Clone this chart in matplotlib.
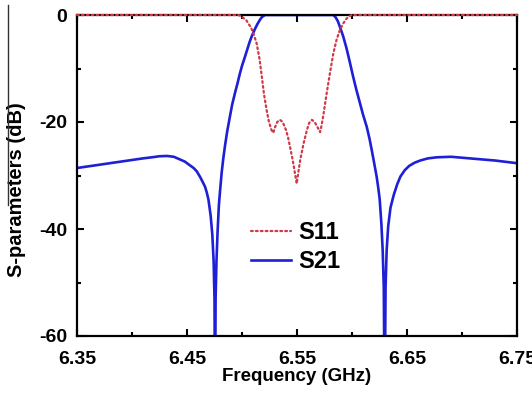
import matplotlib
matplotlib.use("Agg")
import matplotlib.pyplot as plt
from matplotlib.lines import Line2D
from matplotlib.ticker import MultipleLocator

plt.rcParams['font.family'] = ['Liberation Sans', 'DejaVu Sans']

# ---- data ----
freq_s11 = [6.35, 6.40, 6.45, 6.4966, 6.499, 6.5015, 6.504, 6.5057, 6.508, 6.510,
            6.5133, 6.516, 6.518, 6.520, 6.5224, 6.5245, 6.527, 6.5285, 6.530,
            6.532, 6.5345, 6.537, 6.540, 6.542, 6.546, 6.5497, 6.553, 6.556,
            6.559, 6.561, 6.5636, 6.566, 6.5685, 6.5710, 6.5725, 6.5745, 6.577,
            6.580, 6.583, 6.586, 6.589, 6.592, 6.5945, 6.597, 6.5997, 6.65,
            6.70, 6.75]
s11_db = [0, 0, 0, 0, -0.2, -0.6, -1.0, -1.55, -2.3, -3.2,
          -5.3, -8.3, -11.5, -14.8, -17.8, -20.0, -21.6, -22.0, -21.0,
          -20.0, -19.6, -20.0, -21.5, -23.0, -27.0, -31.5, -27.0, -24.0,
          -21.5, -20.2, -19.6, -20.0, -20.9, -21.9, -20.5, -18.0, -14.6,
          -10.8, -7.2, -4.6, -2.8, -1.6, -0.8, -0.3, 0, 0,
          0, 0]

freq_s21 = [6.35, 6.37, 6.39, 6.41, 6.418, 6.425, 6.432, 6.438, 6.4436, 6.448,
            6.452, 6.456, 6.4588, 6.462, 6.4645, 6.4664, 6.468, 6.4695, 6.4715,
            6.4730, 6.4742, 6.4750, 6.4755, 6.4760, 6.4768, 6.4778, 6.4790,
            6.4800, 6.4815, 6.4830, 6.4845, 6.4865, 6.4890, 6.4910, 6.4936,
            6.4960, 6.4980, 6.5000, 6.5027, 6.5050, 6.5070, 6.5090, 6.5118,
            6.5140, 6.5160, 6.5180, 6.5209, 6.5500, 6.5830, 6.5850, 6.5870,
            6.5890, 6.5920, 6.5950, 6.5980, 6.6010, 6.6040, 6.6070, 6.6100,
            6.6134, 6.6160, 6.6180, 6.6200, 6.6224, 6.6240, 6.6252, 6.6267,
            6.6279, 6.6289, 6.6297, 6.6305, 6.6315, 6.6329, 6.6350, 6.6380,
            6.6410, 6.6440, 6.6480, 6.6520, 6.6570, 6.6620, 6.6690, 6.6770,
            6.6900, 6.7070, 6.7300, 6.7500]
s21_db = [-28.6, -28.0, -27.4, -26.8, -26.6, -26.4, -26.35, -26.5, -27.0, -27.4,
          -28.0, -28.6, -29.2, -30.3, -31.3, -32.1, -33.2, -34.5, -37.5,
          -41.0, -46.0, -53.0, -75.0, -53.0, -46.0, -40.5, -35.5,
          -33.0, -29.5, -26.8, -24.5, -21.8, -19.0, -16.8, -14.6,
          -12.7, -11.0, -9.5, -7.8, -6.3, -5.0, -3.9, -2.6,
          -1.7, -1.0, -0.4, 0, 0, 0, -0.4, -1.1,
          -2.2, -4.0, -6.2, -8.8, -11.5, -14.0, -16.3, -18.6,
          -20.9, -23.2, -25.3, -27.5, -30.2, -32.5, -34.5, -39.0,
          -44.0, -51.0, -75.0, -51.0, -44.0, -39.5, -36.0, -33.6,
          -31.7, -30.2, -29.0, -28.2, -27.6, -27.2, -26.8, -26.6,
          -26.5, -26.8, -27.2, -27.7]

xticks = [6.35, 6.45, 6.55, 6.65, 6.75]
yticks = [0, -20, -40, -60]

fig = plt.figure(figsize=(5.32, 3.93), dpi=100)
ax = fig.add_axes([77/532, 1-336/393, 440/532, 321/393])

ax.plot(freq_s11, s11_db, color='#d03a48', lw=1.6, linestyle=(0, (0.8, 1.4)),
        dash_capstyle='round', label='S11', clip_on=False, zorder=3)
ax.plot(freq_s21, s21_db, color='#1f1fd6', lw=1.9, label='S21', zorder=2)

ax.set_xlim(6.35, 6.75)
ax.set_ylim(-60, 0)
ax.set_xticks(xticks)
ax.set_xticklabels([f"{t:.2f}" for t in xticks])
ax.set_yticks(yticks)
ax.set_yticklabels([str(t) for t in yticks])
ax.xaxis.set_minor_locator(MultipleLocator(0.05))
ax.yaxis.set_minor_locator(MultipleLocator(10))

ax.tick_params(which='both', direction='in', top=True, right=True, width=1.5,
               labelsize=14)
ax.tick_params(which='major', length=5)
ax.tick_params(axis='x', which='major', pad=11)
ax.tick_params(axis='y', which='major', pad=7)
ax.tick_params(which='minor', length=3)
for lab in ax.get_xticklabels() + ax.get_yticklabels():
    lab.set_fontweight('bold')
for sp in ax.spines.values():
    sp.set_linewidth(1.6)

ax.set_xlabel('Frequency (GHz)', fontsize=13.5, fontweight='bold', labelpad=0)
ax.set_ylabel('S-parameters (dB)', fontsize=14.5, fontweight='bold')
ax.yaxis.set_label_coords(-0.115, 0.455)

ax.legend(loc='upper left', bbox_to_anchor=(0.395, 0.357), frameon=False,
          prop={'size': 17, 'weight': 'bold'}, handlelength=1.7,
          handletextpad=0.3, labelspacing=0.25, borderpad=0, borderaxespad=0)

fig.add_artist(Line2D([8/532, 8/532], [1-5/393, 1-205/393], color='#333333', lw=1.0))

fig.savefig('out.png', dpi=100)
